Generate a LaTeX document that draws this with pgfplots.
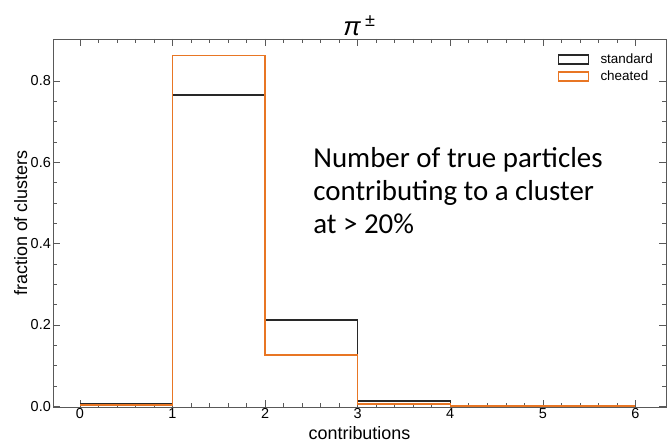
\documentclass[border=0pt]{standalone}
\usepackage{fontspec}
\setmainfont{Liberation Sans}
\newfontfamily\notefont{Carlito}
\usepackage{pgfplots}
\pgfplotsset{compat=1.18}
\definecolor{stdline}{RGB}{40,40,40}
\definecolor{cheatline}{RGB}{232,118,36}
\begin{document}
\begin{tikzpicture}
\begin{axis}[
  scale only axis,
  width=613bp, height=368bp,
  xmin=-0.29, xmax=6.33,
  ymin=-0.002, ymax=0.903,
  xtick={0,1,2,3,4,5,6},
  ytick={0,0.2,0.4,0.6,0.8},
  minor x tick num=4,
  minor y tick num=3,
  tick align=inside,
  major tick length=7bp,
  minor tick length=4bp,
  tick style={color=black!65, line width=0.6pt},
  axis line style={color=black!65, line width=0.7pt},
  /pgf/number format/assume math mode=true,
  /pgf/number format/fixed,
  /pgf/number format/fixed zerofill,
  /pgf/number format/precision=1,
  xticklabel style={font=\fontsize{14.5}{16}\selectfont, /pgf/number format/precision=0,
    /pgf/number format/fixed zerofill=false, inner sep=1bp},
  yticklabel style={font=\fontsize{14.5}{16}\selectfont, inner sep=2bp},
  xlabel={contributions},
  ylabel={fraction of clusters},
  xlabel style={font=\fontsize{18}{20}\selectfont, yshift=-4bp},
  ylabel style={font=\fontsize{18}{20}\selectfont, yshift=-2bp},
  title={{\itshape π}\,\textsuperscript{±}},
  title style={font=\fontsize{26}{28}\selectfont, yshift=-6bp},
  legend style={draw=none, fill=none, at={(0.987,0.971)}, anchor=north east,
    font=\fontsize{13.5}{15}\selectfont, row sep=2bp},
  legend cell align=left,
  legend image code/.code={%
    \draw[#1, line width=1.4pt, fill=none] (0bp,-4.5bp) rectangle (30bp,4.5bp);
    \path[draw=none] (30bp,0bp) -- (40bp,0bp);},
]
\addplot[const plot, color=stdline, line width=1.4pt, mark=none] coordinates {
  (0,0.005) (1,0.765) (2,0.212) (3,0.013) (4,0.0) (5,0.0) (6,0.0)
};
\addlegendentry{standard}
\addplot[const plot, color=cheatline, line width=1.4pt, mark=none] coordinates {
  (0,0.003) (1,0.862) (2,0.126) (3,0.005) (4,0.0) (5,0.0) (6,0.0)
};
\addlegendentry{cheated}
\node[anchor=north west, align=left, font=\notefont\fontsize{29}{33.5}\selectfont, inner sep=0pt]
  at (axis cs:2.52,0.638) {Number of true particles\\contributing to a cluster\\at > 20\%};
\end{axis}
\pgfresetboundingbox
\path[use as bounding box] (-53bp,-37bp) rectangle (614bp,407bp);
\end{tikzpicture}
\end{document}
